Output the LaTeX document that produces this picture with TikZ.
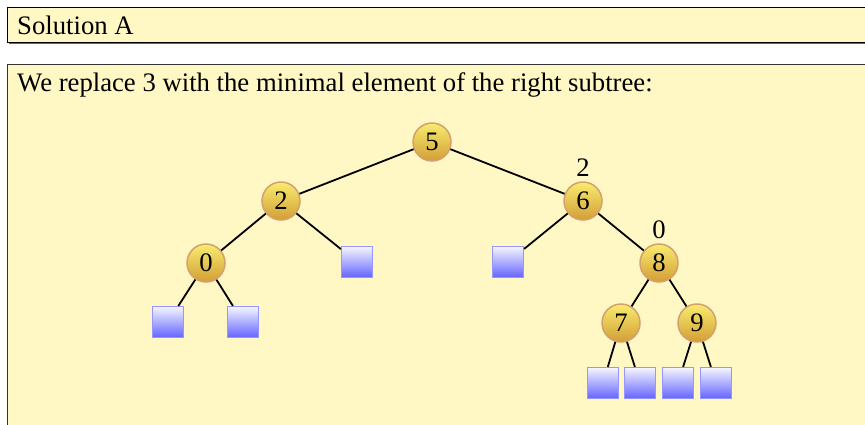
\documentclass[tikz,border=0pt]{standalone}
\usepackage{fontspec}
\setmainfont{Liberation Serif}
\definecolor{bg}{RGB}{255,248,196}
\definecolor{ctop}{RGB}{248,236,110}
\definecolor{cbot}{RGB}{210,158,55}
\definecolor{cborder}{RGB}{212,160,110}
\definecolor{stop}{RGB}{246,246,255}
\definecolor{sbot}{RGB}{100,100,255}
\definecolor{sborder}{RGB}{150,150,255}
\tikzset{
  keynode/.style={circle, draw=cborder, line width=1.5pt, top color=ctop, bottom color=cbot, minimum size=38pt, inner sep=0pt, font=\fontsize{26.7}{30}\selectfont},
  leafnode/.style={rectangle, draw=sborder, line width=1.2pt, top color=stop, bottom color=sbot, minimum size=31pt, inner sep=0pt},
  edge/.style={line width=1.8pt, black},
  lbl/.style={inner sep=0pt, font=\fontsize{26.7}{30}\selectfont},
  boxtext/.style={anchor=base west, inner sep=0pt, font=\fontsize{26.7}{30}\selectfont}
}
\begin{document}
\begin{tikzpicture}[x=1pt,y=-1pt]
\useasboundingbox (0,0) rectangle (865,424);
\clip (0,0) rectangle (865,424);
% title box
\fill[black!60] (9,9) rectangle (880,44);
\filldraw[fill=bg, draw=black, line width=1pt] (7.5,7.5) rectangle (880,42);
\node[boxtext] (title) at (17,34) {Solution A};
% body box
\fill[black!60] (9,66) rectangle (880,440);
\filldraw[fill=bg, draw=black!80, line width=1pt] (7.5,64.5) rectangle (880,440);
\node[boxtext] (desc) at (17,91) {We replace 3 with the minimal element of the right subtree:};
% tree nodes
\node[keynode] (n5) at (432,142) {5};
\node[keynode] (n2) at (281,201) {2};
\node[keynode] (n6) at (583,201) {6};
\node[keynode] (n0) at (206,263) {0};
\node[leafnode] (l2r) at (357,262) {};
\node[leafnode] (l6l) at (508,262) {};
\node[keynode] (n8) at (659,263) {8};
\node[leafnode] (l0l) at (168,322) {};
\node[leafnode] (l0r) at (243,322) {};
\node[keynode] (n7) at (621,323) {7};
\node[keynode] (n9) at (697,323) {9};
\node[leafnode] (l7l) at (603,383) {};
\node[leafnode] (l7r) at (640,383) {};
\node[leafnode] (l9l) at (678,383) {};
\node[leafnode] (l9r) at (716,383) {};
% balance labels
\node[lbl] (b6) at (583,168) {2};
\node[lbl] (b8) at (659,230) {0};
% edges
\draw[edge] (n5) -- (n2);
\draw[edge] (n5) -- (n6);
\draw[edge] (n2) -- (n0);
\draw[edge] (n2) -- (l2r);
\draw[edge] (n6) -- (l6l);
\draw[edge] (n6) -- (n8);
\draw[edge] (n0) -- (l0l);
\draw[edge] (n0) -- (l0r);
\draw[edge] (n8) -- (n7);
\draw[edge] (n8) -- (n9);
\draw[edge] (n7) -- (l7l);
\draw[edge] (n7) -- (l7r);
\draw[edge] (n9) -- (l9l);
\draw[edge] (n9) -- (l9r);
\end{tikzpicture}
\end{document}
